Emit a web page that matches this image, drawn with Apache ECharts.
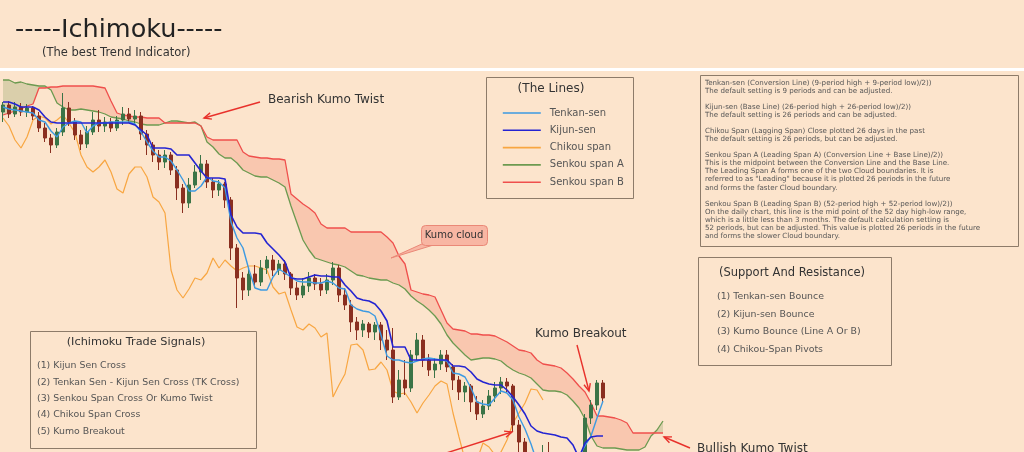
<!DOCTYPE html>
<html>
<head>
<meta charset="utf-8">
<title>Ichimoku</title>
<script src="https://cdn.jsdelivr.net/npm/echarts/dist/echarts.min.js"></script>
<style>
  html, body { margin: 0; padding: 0; background: #fce4cc; }
  #main { width: 1024px; height: 452px; }
</style>
</head>
<body>
<div id="main"></div>
<script>
// price data, one value per period
// candles: [open, close, low, high]
var candles = [
  [388,395,378,398],[395,386,382,399],[386,393,383,398],[393,388,384,397],[388,392,383,396],
  [392,384,380,394],[384,372,368,388],[372,362,358,377],[362,355,347,366],[355,368,352,372],
  [368,392,364,407],[392,378,374,398],[378,365,360,382],[365,356,350,370],[356,368,352,374],
  [368,380,365,388],[380,374,368,390],[374,378,368,383],[378,372,368,382],[372,380,369,384],
  [380,386,375,393],[386,381,377,392],[381,384,376,390],[384,366,360,388],[366,355,345,370],
  [355,345,338,358],[345,338,330,350],[338,345,332,350],[345,330,325,348],[330,312,300,334],
  [312,297,287,316],[297,315,292,322],[315,328,312,335],[328,336,320,345],[336,318,312,340],
  [318,310,302,322],[310,316,304,320],[316,300,292,318],[300,252,240,303],[252,222,192,256],
  [222,210,200,228],[210,226,204,232],[226,218,212,235],[218,232,214,240],[232,240,226,244],
  [240,230,224,245],[230,236,225,240],[236,226,220,240],[226,212,205,228],[212,205,200,218],
  [205,214,202,222],[214,222,208,228],[222,216,210,226],[216,210,204,222],[210,220,206,226],
  [220,232,215,238],[232,205,198,235],[205,195,190,212],[195,178,168,200],[178,170,160,183],
  [170,176,163,180],[176,168,162,178],[168,175,160,178],[175,160,150,178],[160,150,140,170],
  [150,103,97,172],[103,120,100,130],[120,112,105,140],[112,145,108,150],[145,160,140,167],
  [160,140,133,165],[140,130,124,146],[130,136,122,142],[136,145,130,150],[145,133,128,150],
  [133,120,110,136],[120,108,100,124],[108,114,98,118],[114,98,88,116],[98,86,80,104],
  [86,94,82,100],[94,104,90,110],[104,112,98,118],[112,118,106,123],[118,114,108,122],
  [114,75,68,116],[75,58,45,80],[58,40,30,62],[40,25,15,45],[25,30,15,40],
  [30,45,25,55],[45,38,30,58],[38,30,20,44],[30,25,15,36],[25,20,10,30],
  [20,28,12,34],[28,40,22,46],[40,82,35,86],[82,95,76,100],[95,117,90,120],
  [117,102,98,120]
];

var tenkan = [
  393,391,390,389,388,387,380,378,369,363,
  373,377,379,378,367,374,377,377,378,378,
  378,378,376,368,358,349,343,343,339,330,
  320,309,309,314,323,319,318,312,278,262,
  252,230,212,210,210,223,231,227,223,219,
  218,218,217,217,219,217,212,211,195,191,
  189,188,184,165,144,140,140,138,137,139,
  141,142,141,140,139,127,126,123,112,98,
  96,95,102,109,107,100,83,71,56,38,
  30,28,28,28,30,35,44,54,64,82,
  99
];

var kijun = [
  398,398,396,393,393,393,390,383,378,377,
  377,377,377,377,377,377,377,377,377,377,
  377,377,375,370,365,352,352,352,351,345,
  345,345,337,329,322,322,322,321,285,273,
  267,267,267,266,257,251,245,238,222,221,
  221,223,225,224,224,223,223,215,209,202,
  200,199,196,189,179,153,153,153,140,140,
  140,140,140,140,140,134,134,133,128,121,
  118,116,115,115,110,103,95,86,74,69,
  67,66,65,63,62,55,42,57,63,64,
  64
];

// close shifted 26 periods back
var chikou = [
  382,374,360,352,363,380,384,382,376,380,
  385,377,367,345,333,328,333,340,328,311,
  307,326,333,333,323,303,298,287,230,210,
  202,211,222,220,227,242,232,240,234,229,
  232,234,234,232,230,213,206,208,190,173,
  170,176,172,163,167,103,115,126,155,156,
  150,130,131,138,130,109,106,107,98,87,
  97,105,114,119,116,87,63,40,30,40,
  57,53,45,48,60,77,87,97,111,110,
  100
];

// leading spans, plotted 26 periods ahead
var senkouA = [
  420,420,417,418,416,415,414,414,410,397,
  393,390,390,391,390,389,388,386,383,382,
  381,379,378,376,375,375,375,377,379,379,
  378,377,378,374,358,353,346,342,342,337,
  330,327,324,323,323,320,317,313,294,277,
  260,250,242,240,238,236,235,233,229,225,
  224,222,221,220,220,217,215,211,204,199,
  195,190,184,176,165,157,151,145,140,141,
  142,142,141,139,134,130,127,125,122,116,
  110,109,109,108,105,99,92,81,64,54,
  52,52,52,51,50,50,50,53,64,70,79
];

var senkouB = [
  385,387,389,391,394,396,412,412,413,413,
  414,414,414,414,414,414,413,412,399,387,
  385,384,383,383,382,382,382,377,377,377,
  377,377,377,374,363,360,360,360,360,360,
  348,344,343,342,342,341,341,340,306,301,
  296,292,287,276,272,272,272,272,268,268,
  268,268,268,268,263,257,244,236,210,208,
  206,205,203,190,177,171,170,169,166,166,
  165,165,164,161,158,154,150,149,147,140,
  136,135,134,132,127,121,114,108,97,84,
  84,83,82,80,77,67,67,67,67,67,67
];

var lineNames = ['Tenkan-sen', 'Kijun-sen', 'Chikou span', 'Senkou span A', 'Senkou span B'];

var signals = [
  '(1) Kijun Sen Cross',
  '(2) Tenkan Sen - Kijun Sen Cross (TK Cross)',
  '(3) Senkou Span Cross Or Kumo Twist',
  '(4) Chikou Span Cross',
  '(5) Kumo Breakout'
];

var supports = [
  '(1) Tenkan-sen Bounce',
  '(2) Kijun-sen Bounce',
  '(3) Kumo Bounce (Line A Or B)',
  '(4) Chikou-Span Pivots'
];

var notes = [
  'Tenkan-sen (Conversion Line) (9-period high + 9-period low)/2))',
  'The default setting is 9 periods and can be adjusted.',
  '',
  'Kijun-sen (Base Line) (26-period high + 26-period low)/2))',
  'The default setting is 26 periods and can be adjusted.',
  '',
  'Chikou Span (Lagging Span) Close plotted 26 days in the past',
  'The default setting is 26 periods, but can be adjusted.',
  '',
  'Senkou Span A (Leading Span A) (Conversion Line + Base Line)/2))',
  'This is the midpoint between the Conversion Line and the Base Line.',
  'The Leading Span A forms one of the two Cloud boundaries. It is',
  'referred to as "Leading" because it is plotted 26 periods in the future',
  'and forms the faster Cloud boundary.',
  '',
  'Senkou Span B (Leading Span B) (52-period high + 52-period low)/2))',
  'On the daily chart, this line is the mid point of the 52 day high-low range,',
  'which is a little less than 3 months. The default calculation setting is',
  '52 periods, but can be adjusted. This value is plotted 26 periods in the future',
  'and forms the slower Cloud boundary.'
];

// period labels and cloud bands (stacked: lower edge + green part + red part)
var periods = [], kumoLow = [], kumoUp = [], kumoDown = [];
for (var i = 0; i < senkouA.length; i++) {
  periods.push('P' + (i + 1));
  kumoLow.push(Math.min(senkouA[i], senkouB[i]));
  kumoUp.push(Math.max(senkouA[i] - senkouB[i], 0));
  kumoDown.push(Math.max(senkouB[i] - senkouA[i], 0));
}

var FONT = '"DejaVu Sans"';

function txt(x, y, s, size, color, align) {
  return {
    type: 'text', x: x, y: y, z: 100, silent: true,
    style: {
      text: s, font: size + 'px ' + FONT, fill: color || '#333',
      textAlign: align || 'left', align: align || 'left',
      textVerticalAlign: 'middle', verticalAlign: 'middle'
    }
  };
}

function box(x, y, w, h) {
  return {
    type: 'rect', z: 99, silent: true,
    shape: { x: x + 0.5, y: y + 0.5, width: w, height: h },
    style: { fill: 'rgba(0,0,0,0)', stroke: '#8d7b69', lineWidth: 1 }
  };
}

function arrow(x0, y0, x1, y1) {
  var a = Math.atan2(y1 - y0, x1 - x0), len = 8, sp = 0.42;
  return {
    type: 'group', z: 100, silent: true,
    children: [
      { type: 'line', z: 100, shape: { x1: x0, y1: y0, x2: x1, y2: y1 },
        style: { stroke: '#e8312b', lineWidth: 1.4 } },
      { type: 'polyline', z: 100, shape: { points: [
          [x1 - len * Math.cos(a - sp), y1 - len * Math.sin(a - sp)],
          [x1, y1],
          [x1 - len * Math.cos(a + sp), y1 - len * Math.sin(a + sp)]
        ] },
        style: { stroke: '#e8312b', lineWidth: 1.4, fill: null } }
    ]
  };
}

var graphics = [
  // header
  txt(15, 30, '-----Ichimoku-----', 25.5, '#222'),
  txt(42, 53, '(The best Trend Indicator)', 11.5, '#333'),
  { type: 'rect', z: 100, silent: true, shape: { x: 0, y: 68, width: 1024, height: 3 }, style: { fill: '#ffffff' } },

  // annotations
  txt(268, 100, 'Bearish Kumo Twist', 12, '#333'),
  arrow(260, 102, 204, 118),
  txt(535, 334, 'Kumo Breakout', 12, '#333'),
  arrow(577, 345, 589, 391),
  txt(697, 449, 'Bullish Kumo Twist', 12, '#333'),
  arrow(690, 448, 664, 437),
  arrow(440, 455, 512, 432),
  { type: 'polygon', z: 100, silent: true,
    shape: { points: [[424, 243], [440, 243], [391, 258]] },
    style: { fill: '#f8b6a3', stroke: '#ea8877', lineWidth: 1 } },
  { type: 'rect', z: 100, silent: true,
    shape: { x: 421.5, y: 225.5, width: 66, height: 20, r: 4 },
    style: { fill: '#f8b6a3', stroke: '#ea8877', lineWidth: 1 } },
  txt(454, 235.5, 'Kumo cloud', 10, '#333', 'center'),

  // the lines legend frame
  box(486, 77, 147, 121),
  txt(551, 89, '(The Lines)', 12, '#333', 'center'),

  // notes
  box(700, 75, 318, 171),
  {
    type: 'text', x: 705, y: 79, z: 100, silent: true,
    style: { text: notes.join('\n'), font: '7.1px ' + FONT, fill: '#555', lineHeight: 8.05,
      textVerticalAlign: 'top', verticalAlign: 'top' }
  },

  // support and resistance
  box(698, 257, 193, 108),
  txt(792, 273, '(Support And Resistance)', 11.5, '#333', 'center')
];

supports.forEach(function (s, k) {
  graphics.push(txt(717, 297 + k * 17.5, s, 9.4, '#555'));
});

// trade signals
graphics.push(box(30, 331, 226, 117));
graphics.push(txt(136, 342, '(Ichimoku Trade Signals)', 11.3, '#333', 'center'));
signals.forEach(function (s, k) {
  graphics.push(txt(37, 366 + k * 16.3, s, 9.4, '#555'));
});

var lineColors = {
  'Tenkan-sen': '#3d9ae2',
  'Kijun-sen': '#2424d2',
  'Chikou span': '#f8a641',
  'Senkou span A': '#6c9a50',
  'Senkou span B': '#ef4f4c'
};

function lineSeries(name, data, width, z) {
  return {
    name: name, type: 'line', data: data, symbol: 'none', z: z,
    lineStyle: { color: lineColors[name], width: width },
    itemStyle: { color: lineColors[name] },
    silent: true
  };
}

var myChart = echarts.init(document.getElementById('main'));

var option = {
  backgroundColor: '#fce4cc',
  animation: false,
  grid: { left: 0, top: 0, width: 666, height: 452 },
  xAxis: { type: 'category', data: periods, boundaryGap: true, show: false },
  yAxis: { type: 'value', min: 48, max: 500, show: false, splitLine: { show: false } },
  legend: {
    data: lineNames,
    orient: 'vertical',
    left: 497, top: 103,
    itemWidth: 38, itemHeight: 12, itemGap: 7.3,
    selectedMode: false,
    itemStyle: { opacity: 0 },
    lineStyle: { width: 1.6 },
    textStyle: { color: '#555', fontSize: 10, fontFamily: 'DejaVu Sans', padding: [0, 0, 0, 4] }
  },
  graphic: graphics,
  series: [
    { name: 'kumo', type: 'line', data: kumoLow, stack: 'kumo', symbol: 'none', silent: true, z: 1,
      lineStyle: { opacity: 0 } },
    { name: 'kumo up', type: 'line', data: kumoUp, stack: 'kumo', symbol: 'none', silent: true, z: 1,
      lineStyle: { opacity: 0 }, areaStyle: { color: 'rgba(110,140,66,0.33)' } },
    { name: 'kumo down', type: 'line', data: kumoDown, stack: 'kumo', symbol: 'none', silent: true, z: 1,
      lineStyle: { opacity: 0 }, areaStyle: { color: 'rgba(244,104,84,0.33)' } },
    lineSeries('Senkou span A', senkouA, 1.3, 2),
    lineSeries('Senkou span B', senkouB, 1.3, 2),
    lineSeries('Chikou span', chikou, 1.2, 2),
    {
      name: 'price', type: 'candlestick', data: candles, barWidth: 3, z: 3, silent: true,
      itemStyle: {
        color: '#3b7447', color0: '#8a2f20',
        borderColor: '#3b7447', borderColor0: '#8a2f20', borderWidth: 1
      }
    },
    lineSeries('Tenkan-sen', tenkan, 1.4, 4),
    lineSeries('Kijun-sen', kijun, 1.6, 4)
  ]
};

myChart.setOption(option);
</script>
</body>
</html>
